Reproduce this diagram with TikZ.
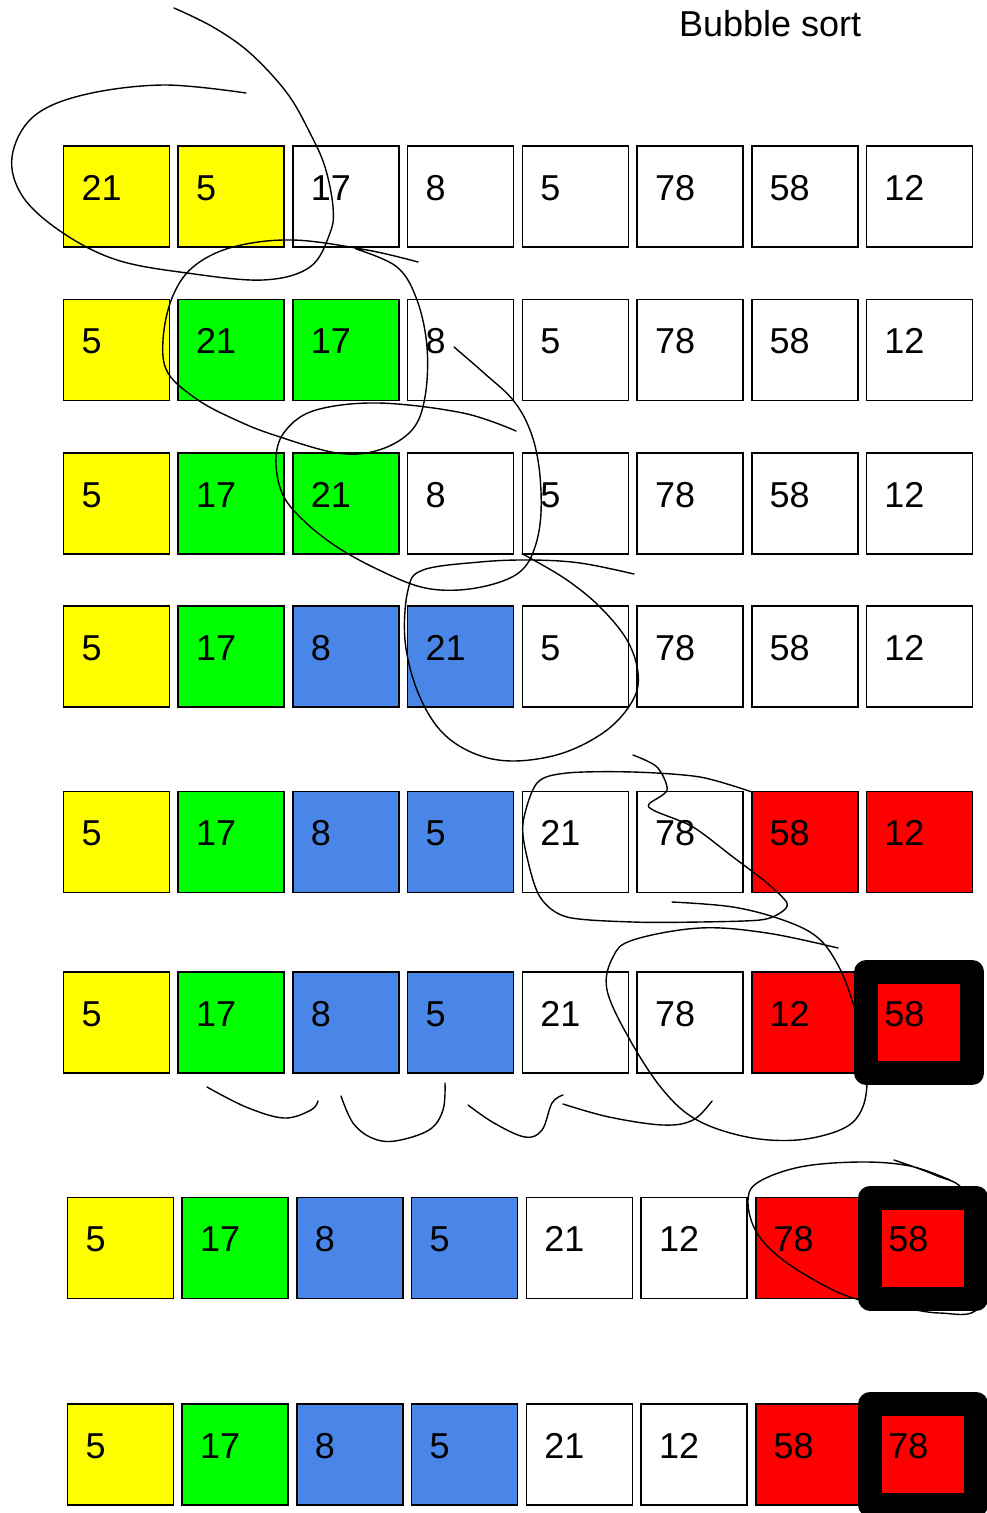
\documentclass[tikz,border=0pt]{standalone}
\usepackage{fontspec}
\setmainfont{Liberation Sans}
\definecolor{cy}{HTML}{FFFF00}
\definecolor{cg}{HTML}{00FF00}
\definecolor{cb}{HTML}{4A86E8}
\definecolor{cr}{HTML}{FF0000}
\tikzset{
  cellbox/.style={draw=black, line width=1.6pt, minimum width=106pt, minimum height=101pt, inner sep=0pt, outer sep=0pt},
  num/.style={font=\fontsize{36}{40}\selectfont, inner sep=0pt, outer sep=0pt, anchor=base west},
  hl/.style={line width=24pt, line join=round},
  hand/.style={line width=1.4pt, line cap=round, line join=round},
}
\newcommand\cellat[5]{%
  \node[cellbox,#4] (#1) at (#2,#3) {};
  \node[num] (#1t) at ([xshift=18pt,yshift=-54pt]#1.north west) {#5};}
\begin{document}
\begin{tikzpicture}[x=1pt,y=-1pt]
\useasboundingbox (0,0) rectangle (986,1513);
\fill[white] (0,0) rectangle (986,1513);
\node[num] (title) at (679,36) {Bubble sort};
% row 1
\cellat{a1}{116.5}{196.5}{fill=cy}{21}
\cellat{a2}{231.2}{196.5}{fill=cy}{5}
\cellat{a3}{345.9}{196.5}{fill=white}{17}
\cellat{a4}{460.6}{196.5}{fill=white}{8}
\cellat{a5}{575.3}{196.5}{fill=white}{5}
\cellat{a6}{690.0}{196.5}{fill=white}{78}
\cellat{a7}{804.7}{196.5}{fill=white}{58}
\cellat{a8}{919.4}{196.5}{fill=white}{12}
% row 2
\cellat{b1}{116.5}{350}{fill=cy}{5}
\cellat{b2}{231.2}{350}{fill=cg}{21}
\cellat{b3}{345.9}{350}{fill=cg}{17}
\cellat{b4}{460.6}{350}{fill=white}{8}
\cellat{b5}{575.3}{350}{fill=white}{5}
\cellat{b6}{690.0}{350}{fill=white}{78}
\cellat{b7}{804.7}{350}{fill=white}{58}
\cellat{b8}{919.4}{350}{fill=white}{12}
% row 3
\cellat{c1}{116.5}{503.5}{fill=cy}{5}
\cellat{c2}{231.2}{503.5}{fill=cg}{17}
\cellat{c3}{345.9}{503.5}{fill=cg}{21}
\cellat{c4}{460.6}{503.5}{fill=white}{8}
\cellat{c5}{575.3}{503.5}{fill=white}{5}
\cellat{c6}{690.0}{503.5}{fill=white}{78}
\cellat{c7}{804.7}{503.5}{fill=white}{58}
\cellat{c8}{919.4}{503.5}{fill=white}{12}
% row 4
\cellat{d1}{116.5}{656.5}{fill=cy}{5}
\cellat{d2}{231.2}{656.5}{fill=cg}{17}
\cellat{d3}{345.9}{656.5}{fill=cb}{8}
\cellat{d4}{460.6}{656.5}{fill=cb}{21}
\cellat{d5}{575.3}{656.5}{fill=white}{5}
\cellat{d6}{690.0}{656.5}{fill=white}{78}
\cellat{d7}{804.7}{656.5}{fill=white}{58}
\cellat{d8}{919.4}{656.5}{fill=white}{12}
% row 5
\cellat{e1}{116.5}{842}{fill=cy}{5}
\cellat{e2}{231.2}{842}{fill=cg}{17}
\cellat{e3}{345.9}{842}{fill=cb}{8}
\cellat{e4}{460.6}{842}{fill=cb}{5}
\cellat{e5}{575.3}{842}{fill=white}{21}
\cellat{e6}{690.0}{842}{fill=white}{78}
\cellat{e7}{804.7}{842}{fill=cr}{58}
\cellat{e8}{919.4}{842}{fill=cr}{12}
% row 6
\cellat{f1}{116.5}{1022.5}{fill=cy}{5}
\cellat{f2}{231.2}{1022.5}{fill=cg}{17}
\cellat{f3}{345.9}{1022.5}{fill=cb}{8}
\cellat{f4}{460.6}{1022.5}{fill=cb}{5}
\cellat{f5}{575.3}{1022.5}{fill=white}{21}
\cellat{f6}{690.0}{1022.5}{fill=white}{78}
\cellat{f7}{804.7}{1022.5}{fill=cr}{12}
\cellat{f8}{919.4}{1022.5}{fill=cr,hl}{58}
% row 7
\cellat{g1}{120.5}{1248}{fill=cy}{5}
\cellat{g2}{235.2}{1248}{fill=cg}{17}
\cellat{g3}{349.9}{1248}{fill=cb}{8}
\cellat{g4}{464.6}{1248}{fill=cb}{5}
\cellat{g5}{579.3}{1248}{fill=white}{21}
\cellat{g6}{694.0}{1248}{fill=white}{12}
\cellat{g7}{808.7}{1248}{fill=cr}{78}
\cellat{g8}{923.4}{1248}{fill=cr,hl}{58}
% row 8
\cellat{h1}{120.5}{1454.5}{fill=cy}{5}
\cellat{h2}{235.2}{1454.5}{fill=cg}{17}
\cellat{h3}{349.9}{1454.5}{fill=cb}{8}
\cellat{h4}{464.6}{1454.5}{fill=cb}{5}
\cellat{h5}{579.3}{1454.5}{fill=white}{21}
\cellat{h6}{694.0}{1454.5}{fill=white}{12}
\cellat{h7}{808.7}{1454.5}{fill=cr}{58}
\cellat{h8}{923.4}{1454.5}{fill=cr,hl}{78}
% freehand strokes
\draw[hand] plot[smooth,tension=0.6] coordinates {(246,93) (163,85) (83,95) (33,117) (12,157) (23,197) (63,233) (117,260) (187,273) (263,280) (310,267) (330,233) (333,207) (325,167) (310,133) (287,93) (250,53) (213,27) (174,8)};
\draw[hand] plot[smooth,tension=0.6] coordinates {(418,262) (367,250) (293,240) (233,247) (193,267) (172,298) (163,340) (168,373) (198,400) (236,420) (274,435) (337,453) (379,450) (412,430) (425,397) (427,347) (417,300) (397,267) (356,249)};
\draw[hand] plot[smooth,tension=0.6] coordinates {(516,431) (463,413) (379,403) (316,410) (286,430) (276,457) (282,493) (303,520) (337,547) (379,570) (421,587) (459,590) (497,583) (522,570) (535,547) (541,513) (539,467) (530,430) (513,400) (484,373) (454,347)};
\draw[hand] plot[smooth,tension=0.6] coordinates {(634,574) (580,563) (530,560) (480,562) (423,570) (408,590) (405,640) (417,690) (440,730) (473,753) (513,761) (563,753) (607,730) (633,700) (638,673) (627,640) (600,607) (567,580) (530,558) (522,554)};
\draw[hand] plot[smooth,tension=0.5] coordinates {(633,755) (657,767) (667,790) (649,804) (655,811) (693,827) (733,857) (767,883) (787,903) (780,913) (760,920) (700,922) (633,922) (567,917) (540,897) (527,857) (523,823) (537,783) (567,773) (633,772) (700,777) (752,792)};
\draw[hand] plot[smooth,tension=0.6] coordinates {(838,948) (767,933) (700,928) (633,940) (613,957) (607,990) (630,1040) (663,1090) (697,1120) (747,1137) (797,1140) (840,1130) (860,1113) (867,1083) (862,1040) (853,1003) (838,965) (817,937) (783,920) (733,907) (672,902)};
\draw[hand] plot[smooth,tension=0.6] coordinates {(207,1087) (246,1107) (284,1118) (311,1110) (318,1101)};
\draw[hand] plot[smooth,tension=0.6] coordinates {(341,1096) (353,1123) (372,1138) (395,1141) (429,1130) (443,1110) (445,1083)};
\draw[hand] plot[smooth,tension=0.6] coordinates {(468,1105) (494,1123) (525,1137) (542,1130) (552,1103) (563,1095)};
\draw[hand] plot[smooth,tension=0.6] coordinates {(563,1104) (609,1117) (663,1125) (693,1120) (712,1101)};
\draw[hand] plot[smooth,tension=0.6] coordinates {(894,1160) (935,1175) (965,1192) (985,1250) (978,1308) (940,1313) (900,1307) (860,1300) (827,1287) (783,1260) (757,1233) (748,1203) (757,1183) (800,1167) (860,1162) (910,1166) (950,1180)};
\end{tikzpicture}
\end{document}
